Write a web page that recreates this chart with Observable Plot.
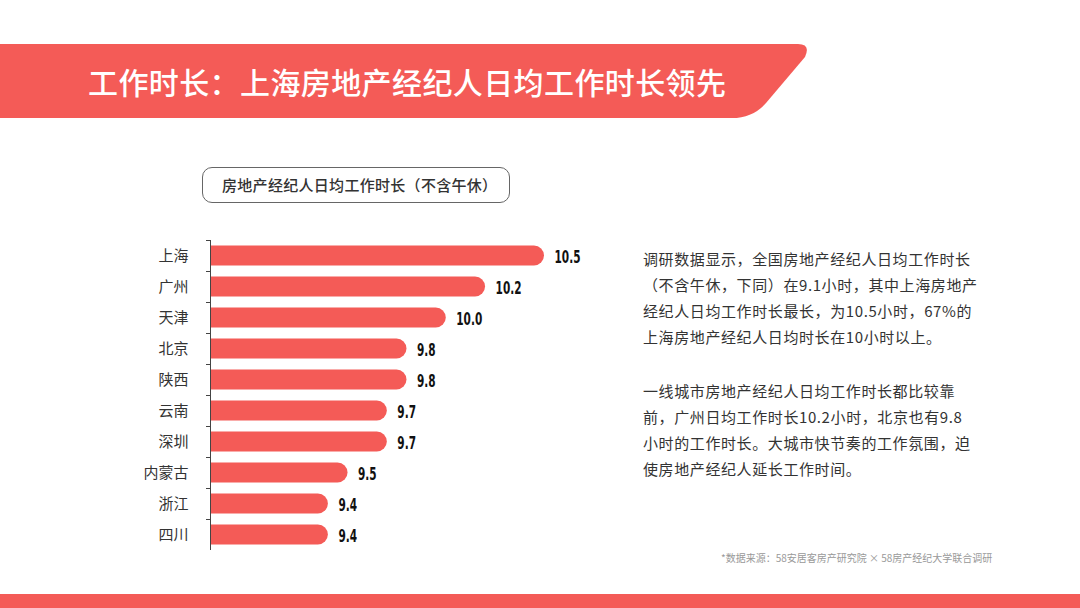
<!DOCTYPE html>
<html>
<head>
<meta charset="utf-8">
<script src="https://cdn.jsdelivr.net/npm/d3@7"></script>
<script src="https://cdn.jsdelivr.net/npm/@observablehq/plot@0.6"></script>
<style>
  html, body { margin: 0; padding: 0; background: #fff; }
  body { width: 1080px; height: 608px; position: relative; overflow: hidden;
         font-family: "Noto Sans CJK SC", "Noto Sans", sans-serif; }
  #header { position: absolute; left: 0; top: 0; }
  #title { position: absolute; left: 88px; top: 60px; font-size: 30px; font-weight: 500;
           color: #fff; line-height: 42px; white-space: nowrap; letter-spacing: 0.4px; }
  #subtitle { position: absolute; left: 202px; top: 167px; width: 308px; height: 36px;
              border: 1px solid #666; border-radius: 10px; box-sizing: border-box; }
  #subtitle span { position: absolute; left: 19px; top: 7px; font-size: 15px; font-weight: 500;
                   color: #333; line-height: 20px; white-space: nowrap; letter-spacing: 0.3px; }
  #chart { position: absolute; left: 0; top: 230px; }
  #para { position: absolute; left: 643px; top: 246px; font-size: 15px; line-height: 26px;
          color: #333; letter-spacing: 0.6px; white-space: nowrap; }
  #para p { margin: 0; }
  #para p + p { margin-top: 28px; }
  #source { position: absolute; left: 721px; top: 551px; font-size: 10px; color: #999;
            white-space: nowrap; line-height: 14px; }
  #footer { position: absolute; left: 0; top: 594px; width: 1080px; height: 14px; background: #f45b57; }
</style>
</head>
<body>
<svg id="header" width="1080" height="130">
  <path d="M0,44 L798,44 Q811,44 805,57 L766,103 Q753,118 732,118 L0,118 Z" fill="#f45b57"/>
</svg>
<div id="title">工作时长：上海房地产经纪人日均工作时长领先</div>
<div id="subtitle"><span>房地产经纪人日均工作时长（不含午休）</span></div>
<div id="chart"></div>
<div id="para">
  <p>调研数据显示，全国房地产经纪人日均工作时长<br>（不含午休，下同）在9.1小时，其中上海房地产<br>经纪人日均工作时长最长，为10.5小时，67%的<br>上海房地产经纪人日均时长在10小时以上。</p>
  <p>一线城市房地产经纪人日均工作时长都比较靠<br>前，广州日均工作时长10.2小时，北京也有9.8<br>小时的工作时长。大城市快节奏的工作氛围，迫<br>使房地产经纪人延长工作时间。</p>
</div>
<div id="source">*数据来源：58安居客房产研究院 × 58房产经纪大学联合调研</div>
<div id="footer"></div>
<script>
const cities = ["上海", "广州", "天津", "北京", "陕西", "云南", "深圳", "内蒙古", "浙江", "四川"];
const hours = [10.5, 10.2, 10.0, 9.8, 9.8, 9.7, 9.7, 9.5, 9.4, 9.4];

const data = cities.map((c, i) => ({city: c, value: hours[i]}));
const xMin = 8.8;

const plot = Plot.plot({
  width: 620,
  height: 330,
  marginLeft: 210,
  marginRight: 76,
  marginTop: 10,
  marginBottom: 10,
  style: {background: "transparent", fontFamily: "'Noto Sans CJK SC', sans-serif"},
  x: {domain: [xMin, 10.5], axis: null},
  y: {domain: cities, padding: 0},
  marks: [
    Plot.barX(data, {
      x1: xMin - 0.3, x2: "value", y: "city",
      fill: "#f45b57", rx: 10, insetTop: 5.5, insetBottom: 5.5, clip: true
    }),
    Plot.ruleX([xMin], {stroke: "#444", strokeWidth: 1}),
    Plot.axisY({tickSize: 4, dy: -15.5, tickFormat: () => "", stroke: "#444", label: null}),
    Plot.axisY({tickSize: 0, tickPadding: 22, fontSize: 15, fill: "#333", label: null}),
    Plot.text(data, {
      x: "value", y: "city", text: d => d.value.toFixed(1),
      dx: 10, dy: 1.5, textAnchor: "start", fontSize: 17, fontWeight: "bold",
      fill: "#111", className: "vlabel",
      fontFamily: "'DejaVu Sans', sans-serif"
    })
  ]
});
// condense the value labels horizontally (narrow display face in the original)
d3.select(plot).selectAll(".vlabel text").each(function () {
  const t = this.getAttribute("transform") || "";
  this.setAttribute("transform", t + " scale(0.62,1)");
});
document.getElementById("chart").appendChild(plot);
</script>
</body>
</html>
